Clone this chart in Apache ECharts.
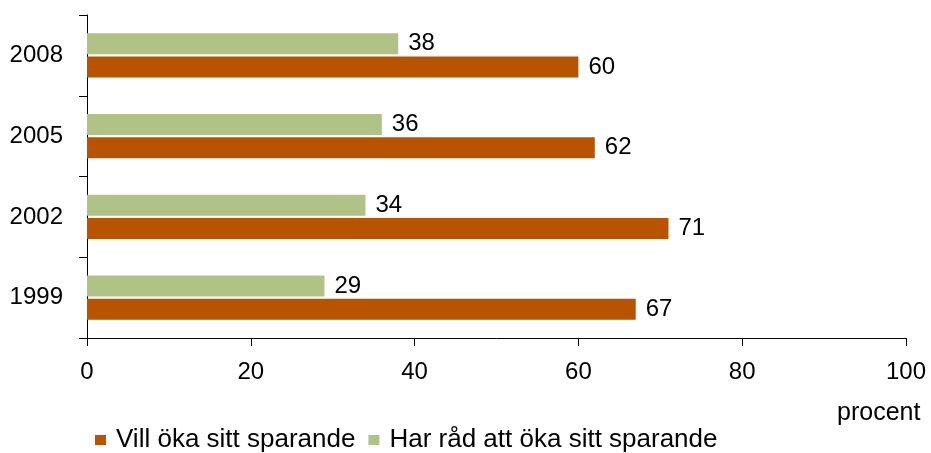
<!DOCTYPE html>
<html><head><meta charset="utf-8">
<script src="https://cdn.jsdelivr.net/npm/echarts@6/dist/echarts.min.js"></script>
<style>html,body{margin:0;padding:0;background:#fff}#c{width:931px;height:453px}</style>
</head><body><div id="c"></div>
<script>
const categories = ['1999', '2002', '2005', '2008'];
const villOka = [67, 71, 62, 60];
const harRad = [29, 34, 36, 38];
const xTicks = [0, 20, 40, 60, 80, 100];
const seriesNames = ['Vill öka sitt sparande', 'Har råd att öka sitt sparande'];

const font = 'Liberation Sans, Arial, sans-serif';
const chart = echarts.init(document.getElementById('c'));
const lbl = { show: true, position: 'right', distance: 10, fontSize: 24, color: '#000', fontFamily: font };
chart.setOption({
  animation: false,
  grid: { left: 87, right: 25, top: 15, bottom: 115 },
  xAxis: {
    type: 'value', min: xTicks[0], max: xTicks[xTicks.length - 1], interval: 20,
    axisLine: { show: true, lineStyle: { color: '#000', width: 1 } },
    axisTick: { show: true, length: 8, lineStyle: { color: '#000' } },
    splitLine: { show: false },
    axisLabel: { fontSize: 24, color: '#000', fontFamily: font, margin: 22 }
  },
  yAxis: {
    type: 'category', data: categories,
    axisLine: { show: true, lineStyle: { color: '#000', width: 1 } },
    axisTick: { show: true, length: 8, alignWithLabel: false, lineStyle: { color: '#000' } },
    axisLabel: { fontSize: 24, color: '#000', fontFamily: font, margin: 24 }
  },
  legend: {
    left: 95, top: 427, padding: 0, itemWidth: 11, itemHeight: 10, itemGap: 13, icon: 'rect',
    data: seriesNames,
    textStyle: { fontSize: 26, color: '#000', fontFamily: font, padding: [0, 0, 0, 5] }
  },
  graphic: [{
    type: 'text', left: 837, top: 401,
    style: { text: 'procent', fontSize: 25, fill: '#000', fontFamily: font }
  }],
  series: [
    {
      name: seriesNames[1], type: 'bar', data: harRad, barWidth: 21, barGap: '10%',
      itemStyle: { color: '#b0c285' }, label: lbl
    },
    {
      name: seriesNames[0], type: 'bar', data: villOka, barWidth: 21, barGap: '10%',
      itemStyle: { color: '#b85300' }, label: lbl
    }
  ]
});
</script></body></html>
